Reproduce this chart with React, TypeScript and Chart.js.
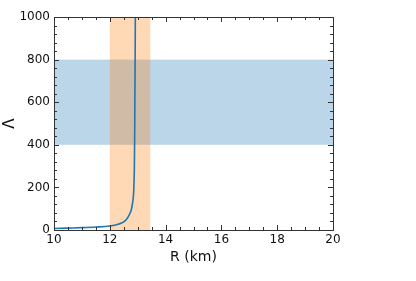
import React, { useEffect, useRef } from "react";
import { Chart, registerables } from "chart.js";

Chart.register(...registerables);

// Curve: tidal deformability vs radius
const radiusKm = [10.0, 10.5, 11.0, 11.5, 12.0, 12.3, 12.5, 12.6, 12.7, 12.78, 12.83, 12.86, 12.88, 12.89, 12.9, 12.91, 12.915];
const lambdaValues = [7, 9, 11, 14, 19, 27, 38, 50, 72, 100, 140, 190, 290, 420, 620, 850, 1000];

// Shaded bands
const radiusBand = [12.0, 13.45];
const lambdaBand = [400, 800];

// Axes
const xRange = [10, 20];
const yRange = [0, 1000];
const xMajorTicks = [10, 12, 14, 16, 18, 20];
const xMinorTicks = [10.5, 11, 11.5, 12.5, 13, 13.5, 14.5, 15, 15.5, 16.5, 17, 17.5, 18.5, 19, 19.5];
const yMajorTicks = [0, 200, 400, 600, 800, 1000];
const yMinorTicks = [40, 80, 120, 160, 240, 280, 320, 360, 440, 480, 520, 560, 640, 680, 720, 760, 840, 880, 920, 960];

const FONT = "'DejaVu Sans', sans-serif";

const bandsPlugin = {
  id: "bands",
  beforeDatasetsDraw(chart: any) {
    const { ctx, chartArea, scales } = chart;
    const x = scales.x, y = scales.y;
    ctx.save();
    const y0 = y.getPixelForValue(lambdaBand[1]);
    const y1 = y.getPixelForValue(lambdaBand[0]);
    ctx.fillStyle = "rgba(31,119,180,0.3)";
    ctx.fillRect(chartArea.left, y0, chartArea.right - chartArea.left, y1 - y0);
    const x0 = x.getPixelForValue(radiusBand[0]);
    const x1 = x.getPixelForValue(radiusBand[1]);
    ctx.fillStyle = "rgba(255,127,14,0.3)";
    ctx.fillRect(x0, chartArea.top, x1 - x0, chartArea.bottom - chartArea.top);
    ctx.restore();
  },
};

const frameTicksPlugin = {
  id: "frameTicks",
  afterDraw(chart: any) {
    const { ctx, chartArea, scales } = chart;
    const { left, right, top, bottom } = chartArea;
    const x = scales.x, y = scales.y;
    ctx.save();
    ctx.strokeStyle = "#333";
    ctx.lineWidth = 1;
    const majorLen = 5;
    const minorLen = 3;
    const drawX = (v: number, len: number) => {
      const p = Math.round(x.getPixelForValue(v)) + 0.5;
      ctx.beginPath();
      ctx.moveTo(p, bottom);
      ctx.lineTo(p, bottom - len);
      ctx.moveTo(p, top);
      ctx.lineTo(p, top + len);
      ctx.stroke();
    };
    const drawY = (v: number, len: number) => {
      const p = Math.round(y.getPixelForValue(v)) + 0.5;
      ctx.beginPath();
      ctx.moveTo(left, p);
      ctx.lineTo(left + len, p);
      ctx.moveTo(right, p);
      ctx.lineTo(right - len, p);
      ctx.stroke();
    };
    xMajorTicks.forEach((v) => drawX(v, majorLen));
    xMinorTicks.forEach((v) => drawX(v, minorLen));
    yMajorTicks.forEach((v) => drawY(v, majorLen));
    yMinorTicks.forEach((v) => drawY(v, minorLen));
    ctx.strokeRect(Math.round(left) + 0.5, Math.round(top) + 0.5, Math.round(right - left), Math.round(bottom - top));
    ctx.restore();
  },
};

export default function App() {
  const canvasRef = useRef<HTMLCanvasElement | null>(null);

  useEffect(() => {
    if (!canvasRef.current) return;
    const chart = new Chart(canvasRef.current, {
      type: "line",
      data: {
        datasets: [
          {
            data: radiusKm.map((r, i) => ({ x: r, y: lambdaValues[i] })),
            borderColor: "#1f77b4",
            borderWidth: 1.6,
            pointRadius: 0,
            cubicInterpolationMode: "monotone",
            fill: false,
          },
        ],
      },
      options: {
        animation: false,
        responsive: false,
        maintainAspectRatio: false,
        events: [],
        layout: { padding: { left: 0, right: 83, top: 17, bottom: 0 } },
        plugins: { legend: { display: false }, tooltip: { enabled: false } },
        scales: {
          x: {
            type: "linear",
            min: xRange[0],
            max: xRange[1],
            afterFit: (s: any) => {
              s.height = 51;
            },
            afterBuildTicks: (s: any) => {
              s.ticks = xMajorTicks.map((v) => ({ value: v }));
            },
            grid: { display: false, drawTicks: false },
            border: { display: false },
            ticks: {
              color: "#111",
              padding: 3,
              maxRotation: 0,
              autoSkip: false,
              font: { family: FONT, size: 12 },
              callback: (v: any) => String(v),
            },
            title: {
              display: true,
              text: "R (km)",
              color: "#111",
              font: { family: FONT, size: 14 },
              padding: { top: 0, bottom: 15 },
            },
          },
          y: {
            type: "linear",
            min: yRange[0],
            max: yRange[1],
            afterFit: (s: any) => {
              s.width = 54;
            },
            afterBuildTicks: (s: any) => {
              s.ticks = yMajorTicks.map((v) => ({ value: v }));
            },
            grid: { display: false, drawTicks: false },
            border: { display: false },
            ticks: {
              color: "#111",
              padding: 4,
              autoSkip: false,
              font: { family: FONT, size: 12 },
              callback: (v: any) => String(v),
            },
            title: {
              display: true,
              text: "Λ",
              color: "#111",
              font: { family: FONT, size: 15 },
              padding: { top: 1, bottom: 0 },
            },
          },
        },
      },
      plugins: [bandsPlugin, frameTicksPlugin],
    } as any);
    return () => chart.destroy();
  }, []);

  return (
    <div style={{ position: "fixed", left: 0, top: 0, width: 416, height: 281, background: "#fff" }}>
      <canvas ref={canvasRef} width={416} height={281} style={{ width: 416, height: 281, display: "block" }} />
    </div>
  );
}
